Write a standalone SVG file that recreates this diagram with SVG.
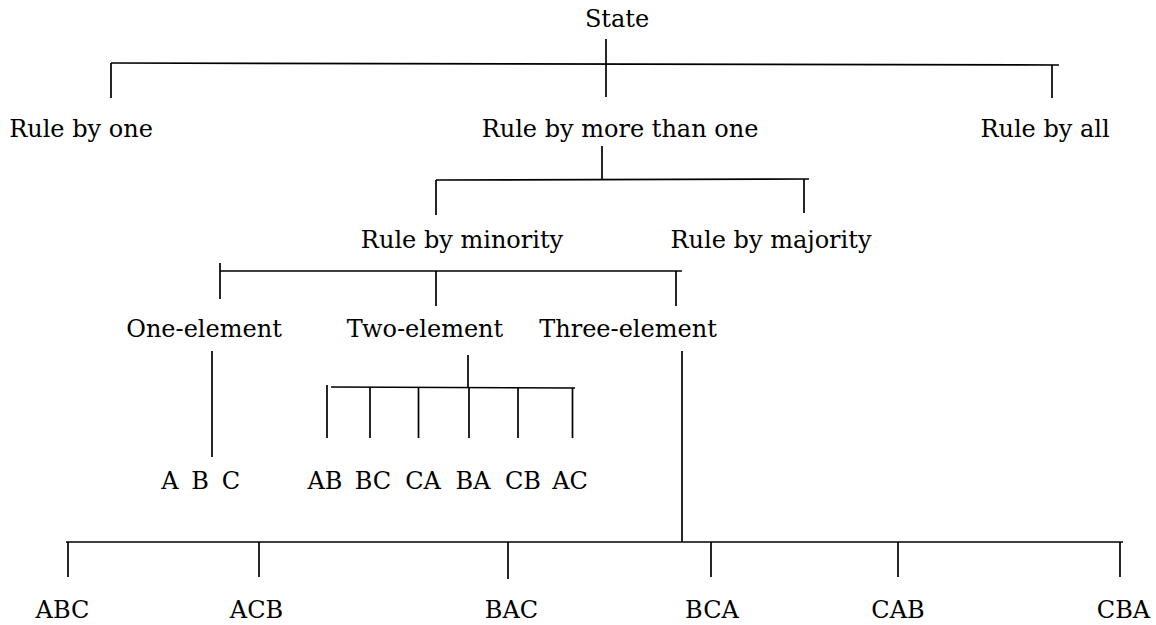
<svg xmlns="http://www.w3.org/2000/svg" width="1156" height="625" viewBox="0 0 1156 625">
<style>
text{font-family:"DejaVu Serif","Liberation Serif",serif;font-size:24px;fill:#000;text-anchor:middle}
.c line{stroke:#000;stroke-width:1.7;stroke-linecap:butt}
</style>
<rect width="1156" height="625" fill="#fff"/>
<g class="c" id="connectors">
<line x1="606" y1="39" x2="606" y2="97"/>
<line x1="111" y1="63" x2="1059" y2="65"/>
<line x1="111" y1="63" x2="111" y2="98"/>
<line x1="1052" y1="65" x2="1052" y2="98"/>
<line x1="602" y1="146" x2="602" y2="180"/>
<line x1="436" y1="180" x2="809" y2="179"/>
<line x1="436" y1="180" x2="436" y2="215"/>
<line x1="804" y1="179" x2="804" y2="213"/>
<line x1="220" y1="271" x2="682" y2="271"/>
<line x1="220" y1="263" x2="220" y2="299"/>
<line x1="436" y1="271" x2="436" y2="306"/>
<line x1="676" y1="271" x2="676" y2="306"/>
<line x1="212" y1="351" x2="212" y2="457"/>
<line x1="468" y1="355" x2="468" y2="388"/>
<line x1="331" y1="387" x2="575" y2="388"/>
<line x1="327" y1="385" x2="327" y2="438"/>
<line x1="370" y1="387" x2="370" y2="438"/>
<line x1="418.5" y1="387" x2="418.5" y2="438"/>
<line x1="469" y1="387" x2="469" y2="438"/>
<line x1="518" y1="388" x2="518" y2="438"/>
<line x1="572.5" y1="388" x2="572.5" y2="438"/>
<line x1="682" y1="351" x2="682" y2="542"/>
<line x1="66" y1="542" x2="1123" y2="542"/>
<line x1="68" y1="542" x2="68" y2="577"/>
<line x1="259" y1="542" x2="259" y2="577"/>
<line x1="508" y1="542" x2="508" y2="579"/>
<line x1="711" y1="542" x2="711" y2="577"/>
<line x1="898" y1="542" x2="898" y2="577"/>
<line x1="1120" y1="542" x2="1120" y2="577"/>
</g>
<g id="state"><text x="617" y="27">State</text></g>
<g id="rule-one"><text x="81" y="137">Rule by one</text></g>
<g id="rule-more"><text x="620" y="137">Rule by more than one</text></g>
<g id="rule-all"><text x="1045" y="137">Rule by all</text></g>
<g id="rule-minority"><text x="462" y="248">Rule by minority</text></g>
<g id="rule-majority"><text x="771" y="248">Rule by majority</text></g>
<g id="one-element"><text x="204" y="337">One-element</text></g>
<g id="two-element"><text x="425" y="337">Two-element</text></g>
<g id="three-element"><text x="628" y="337">Three-element</text></g>
<g id="singles"><text x="170" y="489">A</text><text x="200" y="489">B</text><text x="231" y="489">C</text></g>
<g id="pairs"><text x="325" y="489">AB</text><text x="373" y="489">BC</text><text x="423" y="489">CA</text><text x="473" y="489">BA</text><text x="523" y="489">CB</text><text x="570" y="489">AC</text></g>
<g id="abc"><text x="62.5" y="618">ABC</text></g>
<g id="acb"><text x="256.5" y="618">ACB</text></g>
<g id="bac"><text x="511.5" y="618">BAC</text></g>
<g id="bca"><text x="712" y="618">BCA</text></g>
<g id="cab"><text x="898" y="618">CAB</text></g>
<g id="cba"><text x="1123.5" y="618">CBA</text></g>
</svg>
